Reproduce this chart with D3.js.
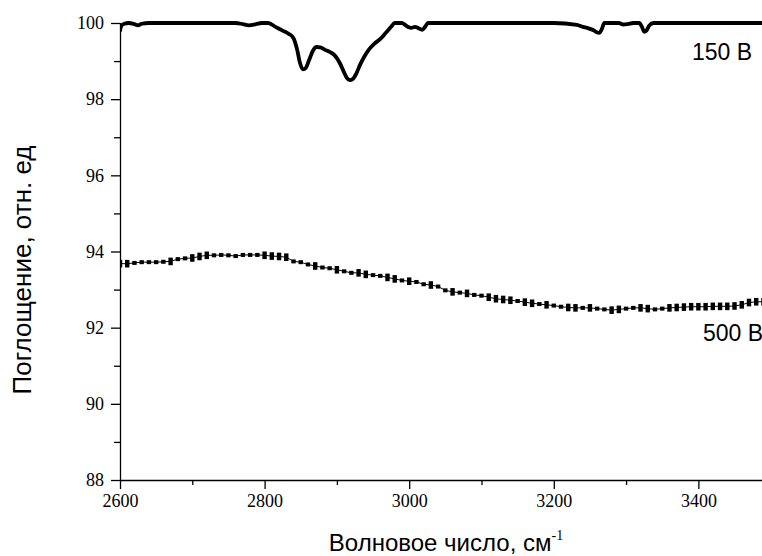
<!DOCTYPE html>
<html>
<head>
<meta charset="utf-8">
<script src="https://cdn.jsdelivr.net/npm/d3@7"></script>
<style>
  body { margin: 0; background: #fff; }
  .tick text { font-family: "Liberation Serif", serif; font-size: 18px; fill: #000; }
  .lbl { font-family: "Liberation Sans", Arial, sans-serif; fill: #000; }
</style>
</head>
<body>
<div id="grafico"></div>
<script>
// 150 V curve (wavenumber, absorbance)
const x150 = [2600,2602,2606,2612,2620,2625,2630,2640,2700,2760,2770,2778,2788,2796,2805,2815,2825,2833,2840,2845,2849,2853,2857,2862,2867,2872,2877,2883,2890,2897,2904,2910,2914,2918,2922,2927,2932,2938,2945,2952,2960,2968,2975,2980,2990,2998,3003,3008,3013,3018,3022,3026,3100,3200,3232,3240,3248,3256,3260,3263,3266,3270,3290,3296,3302,3310,3318,3322,3325,3328,3332,3338,3400,3490];
const y150 = [99.8,99.93,99.98,100,99.97,99.94,99.98,100,100,100,99.97,99.94,99.97,100,100,99.9,99.8,99.72,99.6,99.3,98.95,98.78,98.82,99.05,99.28,99.37,99.36,99.3,99.24,99.15,98.95,98.7,98.55,98.5,98.53,98.68,98.9,99.12,99.32,99.46,99.58,99.75,99.9,100,100,99.9,99.87,99.9,99.86,99.82,99.9,100,100,100,99.95,99.9,99.86,99.8,99.75,99.74,99.82,100,100,99.96,99.97,100,100,99.9,99.77,99.8,99.93,100,100,100];

// 500 V curve
const x500 = [2600,2610,2620,2630,2640,2650,2660,2670,2680,2690,2700,2710,2720,2730,2740,2750,2760,2770,2780,2790,2800,2810,2820,2830,2840,2850,2860,2870,2880,2890,2900,2910,2920,2930,2940,2950,2960,2970,2980,2990,3000,3010,3020,3030,3040,3050,3060,3070,3080,3090,3100,3110,3120,3130,3140,3150,3160,3170,3180,3190,3200,3210,3220,3230,3240,3250,3260,3270,3280,3290,3300,3310,3320,3330,3340,3350,3360,3370,3380,3390,3400,3410,3420,3430,3440,3450,3460,3470,3480,3490];
const y500 = [93.68,93.68,93.7,93.72,93.72,93.72,93.73,93.74,93.8,93.82,93.83,93.87,93.9,93.9,93.91,93.9,93.88,93.91,93.91,93.91,93.9,93.88,93.87,93.85,93.74,93.72,93.66,93.62,93.58,93.56,93.52,93.48,93.44,93.44,93.4,93.38,93.36,93.32,93.28,93.24,93.22,93.2,93.14,93.12,93.08,92.98,92.94,92.92,92.9,92.86,92.84,92.8,92.76,92.74,92.72,92.7,92.67,92.64,92.62,92.6,92.58,92.55,92.53,92.52,92.52,92.52,92.5,92.48,92.46,92.48,92.5,92.52,92.52,92.5,92.48,92.5,92.52,92.53,92.54,92.55,92.55,92.55,92.56,92.56,92.56,92.57,92.6,92.66,92.68,92.68];
const e500 = [0.1,0.1,0,0,0,0,0,0.1,0,0,0.1,0.1,0.1,0,0,0,0,0,0,0,0.1,0.1,0.1,0.1,0,0,0,0.1,0,0,0.1,0,0,0.1,0.1,0,0,0.1,0.1,0,0.1,0,0,0.1,0,0,0.1,0,0.1,0,0,0.1,0.1,0.1,0.1,0,0.1,0.1,0,0.1,0,0,0.1,0.1,0,0.1,0,0,0.1,0.1,0,0,0.1,0.1,0,0,0.1,0.1,0.1,0.1,0.1,0.1,0.1,0.1,0.1,0.1,0.1,0.1,0.1,0.1];

const xTicks = [2600,2800,3000,3200,3400];
const xMinor = [2700,2900,3100,3300];
const yTicks = [88,90,92,94,96,98,100];
const yMinor = [89,91,93,95,97,99];

const W = 762, H = 556;
const mLeft = 120, mTop = 23, mRight = 762, mBottom = 480;

let svg = d3.select("#grafico").append("svg")
  .attr("width", W).attr("height", H);

let x = d3.scaleLinear().domain([2600, 3488]).range([mLeft, mRight]);
let y = d3.scaleLinear().domain([88, 100]).range([mBottom, mTop]);

svg.append("defs").append("clipPath").attr("id", "clip")
  .append("rect").attr("x", mLeft).attr("y", 0).attr("width", mRight - mLeft).attr("height", mBottom);

// axes
svg.append("g").attr("transform", `translate(0,${mBottom})`)
  .call(d3.axisBottom(x).tickValues(xMinor).tickSize(5).tickFormat(""))
  .call(g => g.select(".domain").remove());
let gx = svg.append("g").attr("transform", `translate(0,${mBottom})`)
  .call(d3.axisBottom(x).tickValues(xTicks).tickSize(9).tickSizeOuter(0).tickPadding(5).tickFormat(d3.format("d")));

svg.append("g").attr("transform", `translate(${mLeft},0)`)
  .call(d3.axisLeft(y).tickValues(yMinor).tickSize(6).tickFormat(""))
  .call(g => g.select(".domain").remove());
let gy = svg.append("g").attr("transform", `translate(${mLeft},0)`)
  .call(d3.axisLeft(y).tickValues(yTicks).tickSize(9).tickSizeOuter(0).tickPadding(7).tickFormat(d3.format("d")));

svg.selectAll(".domain, .tick line").attr("stroke", "#000").attr("stroke-width", 1.3);
gx.select(".domain").attr("d", `M${mLeft},0.5H${mRight}`);
gy.select(".domain").attr("d", `M0.5,${mBottom}V${mTop}`);

let plot = svg.append("g").attr("clip-path", "url(#clip)");

// 150 V
let line = d3.line().x(d => x(d[0])).y(d => y(d[1])).curve(d3.curveMonotoneX);
plot.append("path")
  .datum(x150.map((v, i) => [v, y150[i]]))
  .attr("d", line)
  .attr("fill", "none").attr("stroke", "#000").attr("stroke-width", 3.8)
  .attr("stroke-linejoin", "round").attr("stroke-linecap", "round");

// 500 V
let pts = x500.map((v, i) => [v, y500[i], e500[i]]);
plot.append("path")
  .datum(pts)
  .attr("d", d3.line().x(d => x(d[0])).y(d => y(d[1])))
  .attr("fill", "none").attr("stroke", "#000").attr("stroke-width", 1);
plot.selectAll(".bar").data(pts).enter().append("rect")
  .attr("x", d => x(d[0]) - 2.2)
  .attr("y", d => d[2] > 0 ? y(d[1] + d[2]) : y(d[1]) - 2)
  .attr("width", 4.4)
  .attr("height", d => d[2] > 0 ? y(d[1] - d[2]) - y(d[1] + d[2]) : 4)
  .attr("fill", "#000");

// labels
svg.append("text").attr("class", "lbl").attr("x", 752).attr("y", 60)
  .attr("text-anchor", "end").attr("font-size", 23).text("150 В");
svg.append("text").attr("class", "lbl").attr("x", 763).attr("y", 341)
  .attr("text-anchor", "end").attr("font-size", 23).text("500 В");

svg.append("text").attr("class", "lbl")
  .attr("transform", "translate(31,270) rotate(-90)")
  .attr("text-anchor", "middle").attr("font-size", 26)
  .text("Поглощение, отн. ед");

let xt = svg.append("text").attr("class", "lbl")
  .attr("x", 446).attr("y", 551).attr("text-anchor", "middle").attr("font-size", 24);
xt.append("tspan").text("Волновое число, см");
xt.append("tspan").attr("dy", -11).attr("font-size", 14)
  .attr("font-family", "Liberation Serif, serif").text("-1");
</script>
</body>
</html>
